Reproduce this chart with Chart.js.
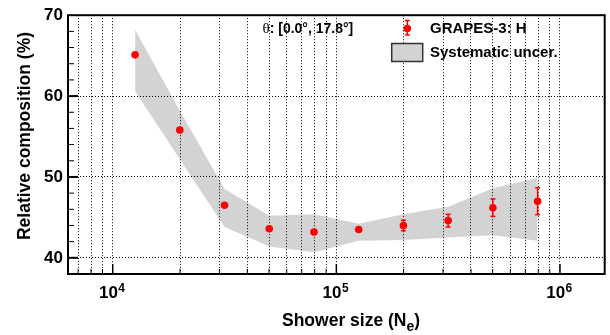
<!DOCTYPE html>
<html>
<head>
<meta charset="utf-8">
<script src="https://cdn.jsdelivr.net/npm/chart.js@4.4.1/dist/chart.umd.min.js"></script>
<style>
html, body { margin: 0; padding: 0; background: #fff; }
</style>
</head>
<body>
<canvas id="compChart" width="610" height="335"></canvas>
<script>
// shower size bins (N_e), log10 = 4.1 ... 5.9
const showerSize = [12589, 19953, 31623, 50119, 79433, 125893, 199526, 316228, 501187, 794328];
const composition = [65.1, 55.8, 46.5, 43.6, 43.2, 43.5, 44.0, 44.6, 46.2, 47.0];
const statError = [0.3, 0.3, 0.3, 0.3, 0.3, 0.35, 0.65, 0.78, 1.08, 1.67];
const systUpper = [68.2, 58.2, 48.5, 45.2, 45.4, 44.2, 45.4, 46.3, 48.6, 49.9];
const systLower = [60.6, 52.2, 43.8, 41.4, 40.7, 42.1, 42.2, 42.5, 42.8, 42.1];

const xGridTicks = [7e3, 8e3, 9e3, 1e4, 2e4, 3e4, 4e4, 5e4, 6e4, 7e4, 8e4, 9e4,
    1e5, 2e5, 3e5, 4e5, 5e5, 6e5, 7e5, 8e5, 9e5, 1e6];
const xMajorTicks = [1e4, 1e5, 1e6];
const xTickExponents = ["4", "5", "6"];
const yMajorTicks = [40, 50, 60, 70];
const yMinorTicks = [40, 42, 44, 46, 48, 50, 52, 54, 56, 58, 60, 62, 64, 66, 68];

const FONT = '"Liberation Sans", Arial, Helvetica, sans-serif';
const RED = "#ff0000";
const BAND = "#d3d3d3";

function toPoints(ys) {
    return showerSize.map((x, i) => ({ x: x, y: ys[i] }));
}

function line(ctx, x1, y1, x2, y2) {
    ctx.beginPath();
    ctx.moveTo(x1, y1);
    ctx.lineTo(x2, y2);
    ctx.stroke();
}

function drawErrorBar(ctx, px, yLo, yHi) {
    ctx.strokeStyle = RED;
    ctx.lineWidth = 1.5;
    line(ctx, px, yLo, px, yHi);
    line(ctx, px - 2.5, yLo, px + 2.5, yLo);
    line(ctx, px - 2.5, yHi, px + 2.5, yHi);
}

const decorPlugin = {
    id: "decor",
    beforeDatasetsDraw(chart) {
        const { ctx, scales: { x, y } } = chart;
        ctx.save();
        showerSize.forEach((v, i) => {
            const px = x.getPixelForValue(v);
            const yHi = y.getPixelForValue(composition[i] + statError[i]);
            const yLo = y.getPixelForValue(composition[i] - statError[i]);
            if (yLo - yHi > 8) drawErrorBar(ctx, px, yLo, yHi);
        });
        ctx.restore();
    },
    afterDraw(chart) {
        const { ctx, chartArea: a, scales: { x, y } } = chart;
        ctx.save();

        // frame
        ctx.strokeStyle = "#000";
        ctx.lineWidth = 2;
        ctx.strokeRect(a.left, a.top, a.right - a.left, a.bottom - a.top);

        // inward ticks, bottom axis
        xGridTicks.forEach((v) => {
            const px = x.getPixelForValue(v);
            const major = xMajorTicks.includes(v);
            ctx.lineWidth = major ? 1.5 : 1;
            line(ctx, px, a.bottom, px, a.bottom - (major ? 10 : 5));
        });
        // inward ticks, left axis
        yMinorTicks.forEach((v) => {
            const py = y.getPixelForValue(v);
            const major = yMajorTicks.includes(v);
            ctx.lineWidth = major ? 2 : 1;
            line(ctx, a.left, py, a.left + (major ? 10 : 6), py);
        });

        // x tick labels 10^n
        ctx.fillStyle = "#000";
        ctx.textBaseline = "alphabetic";
        ctx.textAlign = "left";
        xMajorTicks.forEach((v, i) => {
            const px = x.getPixelForValue(v);
            ctx.font = "bold 17px " + FONT;
            const wBase = ctx.measureText("10").width;
            ctx.font = "bold 12px " + FONT;
            const wExp = ctx.measureText(xTickExponents[i]).width;
            const start = px - (wBase + wExp) / 2 - 1;
            ctx.font = "bold 17px " + FONT;
            ctx.fillText("10", start, 298);
            ctx.font = "bold 12px " + FONT;
            ctx.fillText(xTickExponents[i], start + wBase + 0.5, 292);
        });

        // x axis title with subscript
        ctx.font = "bold 17.5px " + FONT;
        const main = "Shower size (N";
        let tx = 282;
        ctx.fillText(main, tx, 326);
        tx += ctx.measureText(main).width;
        ctx.font = "bold 14px " + FONT;
        ctx.fillText("e", tx, 331);
        tx += ctx.measureText("e").width;
        ctx.font = "bold 17.5px " + FONT;
        ctx.fillText(")", tx, 326);

        // y axis title
        ctx.save();
        ctx.translate(30, 136);
        ctx.rotate(-Math.PI / 2);
        ctx.textAlign = "center";
        ctx.font = "bold 17.5px " + FONT;
        ctx.fillText("Relative composition (%)", 0, 0);
        ctx.restore();

        // zenith-angle label
        ctx.font = '15px "Liberation Serif", "DejaVu Serif", serif';
        ctx.fillText("\u03b8", 262.5, 33.3);
        const wTheta = ctx.measureText("\u03b8").width;
        ctx.font = "bold 14px " + FONT;
        ctx.fillText(": [0.0\u00b0, 17.8\u00b0]", 262.5 + wTheta, 33.3);

        // legend
        drawErrorBar(ctx, 407.3, 35, 20.5);
        ctx.fillStyle = RED;
        ctx.beginPath();
        ctx.arc(407.3, 28.5, 3.8, 0, Math.PI * 2);
        ctx.fill();

        ctx.fillStyle = BAND;
        ctx.fillRect(391.7, 43.5, 31, 18);
        ctx.strokeStyle = "#333";
        ctx.lineWidth = 1.5;
        ctx.strokeRect(391.7, 43.5, 31, 18);

        ctx.fillStyle = "#000";
        ctx.font = "bold 15px " + FONT;
        ctx.fillText("GRAPES-3: H", 430, 33.3);
        ctx.fillText("Systematic uncer.", 430, 56.7);

        ctx.restore();
    },
};

const ctx = document.getElementById("compChart").getContext("2d");
new Chart(ctx, {
    type: "line",
    data: {
        datasets: [
            {
                label: "GRAPES-3: H",
                data: toPoints(composition),
                showLine: false,
                pointRadius: 3.8,
                pointHoverRadius: 3.8,
                pointBackgroundColor: RED,
                pointBorderWidth: 0,
                borderColor: RED,
                order: 0,
            },
            {
                label: "Systematic uncer.",
                data: toPoints(systUpper),
                borderWidth: 0,
                pointRadius: 0,
                tension: 0,
                fill: "+1",
                backgroundColor: BAND,
                order: 1,
            },
            {
                label: "lower",
                data: toPoints(systLower),
                borderWidth: 0,
                pointRadius: 0,
                tension: 0,
                fill: false,
                order: 2,
            },
        ],
    },
    options: {
        responsive: false,
        animation: false,
        layout: { padding: { left: 0, right: 5.3, top: 12, bottom: 0 } },
        plugins: {
            legend: { display: false },
            tooltip: { enabled: false },
            filler: { drawTime: "beforeDraw" },
        },
        scales: {
            x: {
                type: "logarithmic",
                min: Math.pow(10, 3.8),
                max: Math.pow(10, 6.2),
                afterBuildTicks: (scale) => {
                    scale.ticks = xGridTicks.map((v) => ({ value: v }));
                },
                afterFit: (scale) => {
                    scale.height = 61;
                },
                ticks: { display: false, autoSkip: false },
                grid: { color: "#000", lineWidth: 1, drawTicks: false },
                border: { display: false, dash: [1, 2] },
            },
            y: {
                type: "linear",
                min: 38,
                max: 70,
                afterBuildTicks: (scale) => {
                    scale.ticks = yMajorTicks.map((v) => ({ value: v }));
                },
                afterFit: (scale) => {
                    scale.width = 68;
                },
                ticks: {
                    autoSkip: false,
                    padding: 5,
                    color: "#000",
                    font: { family: FONT, size: 17, weight: "bold" },
                },
                grid: { color: "#000", lineWidth: 1, drawTicks: false },
                border: { display: false, dash: [1, 2] },
            },
        },
    },
    plugins: [decorPlugin],
});
</script>
</body>
</html>
